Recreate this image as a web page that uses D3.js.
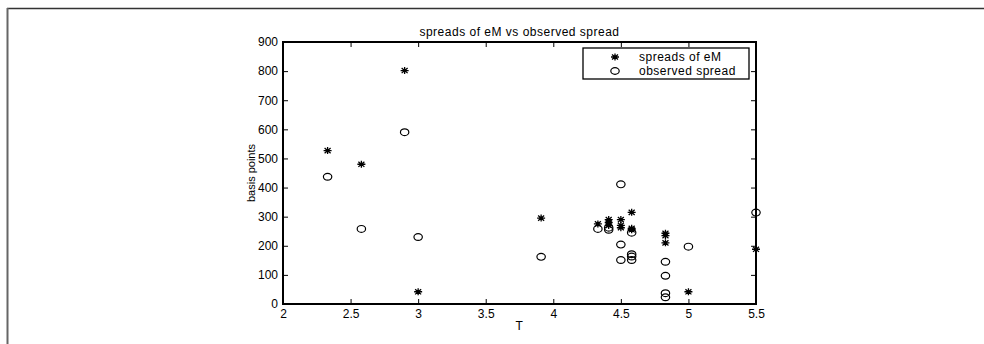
<!DOCTYPE html>
<html>
<head>
<meta charset="utf-8">
<script src="https://cdn.jsdelivr.net/npm/d3@7"></script>
<style>
  body { margin: 0; background: #fff; }
  svg { display: block; font-family: "Liberation Sans", Arial, sans-serif; }
</style>
</head>
<body>
<svg width="984" height="344"></svg>
<script>
// spreads of eM (stars)
const starT = [2.33, 2.58, 2.9, 3.0, 3.91, 4.33, 4.41, 4.41, 4.41, 4.5, 4.5, 4.5, 4.58, 4.58, 4.58, 4.83, 4.83, 4.83, 5.0, 5.5];
const starY = [527, 480, 802, 42, 295, 275, 290, 280, 270, 290, 270, 262, 315, 260, 255, 243, 235, 210, 42, 188];
// observed spread (circles)
const circT = [2.33, 2.58, 2.9, 3.0, 3.91, 4.33, 4.41, 4.41, 4.5, 4.5, 4.5, 4.58, 4.58, 4.58, 4.58, 4.83, 4.83, 4.83, 4.83, 5.0, 5.5];
const circY = [437, 258, 590, 230, 162, 258, 262, 255, 411, 204, 151, 245, 171, 163, 151, 145, 97, 37, 23, 197, 314];

const xTicks = [2, 2.5, 3, 3.5, 4, 4.5, 5, 5.5];
const yTicks = [0, 100, 200, 300, 400, 500, 600, 700, 800, 900];
const seriesNames = ['spreads of eM', 'observed spread'];

const svg = d3.select('svg');
const plotL = 283, plotR = 756, plotT = 42, plotB = 304;

const x = d3.scaleLinear().domain([2, 5.5]).range([plotL, plotR]);
const y = d3.scaleLinear().domain([0, 900]).range([plotB, plotT]);

// outer frame (only top and left edges visible)
svg.append('line').attr('x1', 7).attr('x2', 984).attr('y1', 8.5).attr('y2', 8.5)
    .attr('stroke', '#333').attr('stroke-width', 1.5);
svg.append('line').attr('x1', 7.5).attr('x2', 7.5).attr('y1', 8).attr('y2', 344)
    .attr('stroke', '#666').attr('stroke-width', 2);

// axes with inward ticks
const tickFont = g => g.selectAll('text').style('font-size', '12px').attr('fill', '#000');
const styleAxis = g => {
    g.select('.domain').remove();
    g.selectAll('line').attr('stroke', '#000');
};

svg.append('g').attr('transform', `translate(0,${plotB})`)
    .call(d3.axisBottom(x).tickValues(xTicks).tickSize(-5).tickPadding(5).tickFormat(d3.format('')))
    .call(styleAxis).call(tickFont);
svg.append('g').attr('transform', `translate(0,${plotT})`)
    .call(d3.axisTop(x).tickValues(xTicks).tickSize(-5).tickFormat(''))
    .call(styleAxis);
svg.append('g').attr('transform', `translate(${plotL},0)`)
    .call(d3.axisLeft(y).tickValues(yTicks).tickSize(-5).tickPadding(5))
    .call(styleAxis).call(tickFont);
svg.append('g').attr('transform', `translate(${plotR},0)`)
    .call(d3.axisRight(y).tickValues(yTicks).tickSize(-5).tickFormat(''))
    .call(styleAxis);

svg.append('rect').attr('x', plotL).attr('y', plotT)
    .attr('width', plotR - plotL).attr('height', plotB - plotT)
    .attr('fill', 'none').attr('stroke', '#000').attr('stroke-width', 2);

// title and labels
const label = sel => sel.attr('text-anchor', 'middle').style('font-size', '12px').style('letter-spacing', '0.5px');
svg.append('text').attr('x', (plotL + plotR) / 2).attr('y', 36)
    .call(label).text('spreads of eM vs observed spread');
svg.append('text').attr('x', (plotL + plotR) / 2).attr('y', 330)
    .call(label).text('T');
svg.append('text').attr('transform', `translate(255,${(plotT + plotB) / 2}) rotate(-90)`)
    .attr('text-anchor', 'middle').style('font-size', '11px').text('basis points');

// markers
const starPath = 'M-4,0H4M0,-3.5V3.5M-3,-2.6L3,2.6M-3,2.6L3,-2.6';

const stars = svg.append('g');
starT.forEach((t, i) => {
    stars.append('path').attr('d', starPath)
        .attr('transform', `translate(${x(t)},${y(starY[i])})`)
        .attr('stroke', '#000').attr('stroke-width', 1.3).attr('fill', 'none');
});

const circles = svg.append('g');
circT.forEach((t, i) => {
    circles.append('ellipse').attr('cx', x(t)).attr('cy', y(circY[i]))
        .attr('rx', 4.2).attr('ry', 3.4)
        .attr('fill', 'none').attr('stroke', '#000').attr('stroke-width', 1.2);
});

// legend
const lg = svg.append('g');
lg.append('rect').attr('x', 583).attr('y', 48).attr('width', 166).attr('height', 31)
    .attr('fill', '#fff').attr('stroke', '#000').attr('stroke-width', 1.3);
lg.append('path').attr('d', starPath).attr('transform', 'translate(615,57)')
    .attr('stroke', '#000').attr('stroke-width', 1.3).attr('fill', 'none');
lg.append('ellipse').attr('cx', 615).attr('cy', 71).attr('rx', 4.2).attr('ry', 3.4)
    .attr('fill', 'none').attr('stroke', '#000').attr('stroke-width', 1.2);
seriesNames.forEach((name, i) => {
    lg.append('text').attr('x', 639).attr('y', 61 + i * 14)
        .style('font-size', '12px').style('letter-spacing', '0.5px').text(name);
});
</script>
</body>
</html>
